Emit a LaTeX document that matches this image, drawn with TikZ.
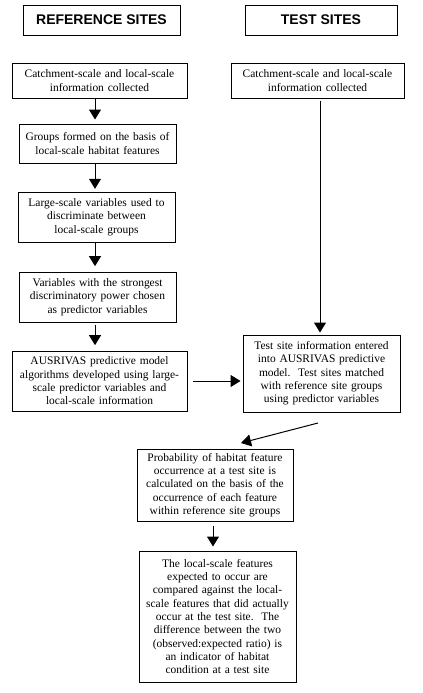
\documentclass[tikz,border=0pt]{standalone}
\usepackage{fontspec}
\setmainfont{Liberation Serif}
\newfontfamily\hdrfont{Liberation Sans}
\usetikzlibrary{arrows.meta}
\tikzset{
  bx/.style={draw, line width=0.75pt, align=center, inner xsep=2pt, inner ysep=0pt,
    font=\fontsize{8.6}{10}\selectfont},
  hd/.style={draw, line width=0.75pt, align=center, inner sep=0pt,
    font=\hdrfont\bfseries\fontsize{10.5}{12}\selectfont},
  arr/.style={line width=0.75pt, -{Triangle[width=9pt,length=7.5pt]}},
}
\begin{document}
\begin{tikzpicture}[x=0.75pt,y=-0.75pt]
\useasboundingbox (0,0) rectangle (422,693);
% headers
\node[hd, minimum width=117.75pt, minimum height=22.5pt] (H1) at (101.5,20) {REFERENCE SITES};
\node[hd, minimum width=114pt, minimum height=22.5pt] (H2) at (321,20) {TEST SITES};
% reference column
\node[bx, text width=127.25pt, minimum height=26.25pt] (R1) at (99.5,80.5)
  {Catchment-scale and local-scale\\information collected};
\node[bx, text width=113.75pt, minimum height=29.25pt] (R2) at (97.5,143.5)
  {Groups formed on the basis of\\local-scale habitat features};
\node[bx, text width=113.75pt, minimum height=37.5pt] (R3) at (96.5,217)
  {Large-scale variables used to\\discriminate between\\local-scale groups};
\node[bx, text width=113.75pt, minimum height=37.5pt] (R4) at (97.5,297)
  {Variables with the strongest\\discriminatory power chosen\\as predictor variables};
\node[bx, text width=127.25pt, minimum height=45pt] (R5) at (99.5,381)
  {AUSRIVAS predictive model\\algorithms developed using large-\\scale predictor variables and\\local-scale information};
% test column
\node[bx, text width=125.75pt, minimum height=26.25pt] (T1) at (317.5,80.5)
  {Catchment-scale and local-scale\\information collected};
\node[bx, text width=113.75pt, minimum height=57.75pt] (T2) at (321.5,373.5)
  {Test site information entered\\into AUSRIVAS predictive\\model.\ \ Test sites matched\\with reference site groups\\using predictor variables};
% bottom
\node[bx, text width=113pt, minimum height=54pt] (B6) at (215,485)
  {Probability of habitat feature\\occurrence at a test site is\\calculated on the basis of the\\occurrence of each feature\\within reference site groups};
\node[bx, text width=113.75pt, minimum height=98.25pt] (B7) at (217.5,616.5)
  {The local-scale features\\expected to occur are\\compared against the local-\\scale features that did actually\\occur at the test site.\ \ The\\difference between the two\\(observed:expected ratio) is\\an indicator of habitat\\condition at a test site};
% connectors
\coordinate (ax) at (95,0);
\draw[arr] (R1.south -| ax) -- ([yshift=3pt]R2.north -| ax);
\draw[arr] (R2.south -| ax) -- ([yshift=2pt]R3.north -| ax);
\draw[arr] (R3.south -| ax) -- ([yshift=4pt]R4.north -| ax);
\draw[arr] ([yshift=-1.5pt]R4.south -| ax) -- ([yshift=4pt]R5.north -| ax);
\coordinate (tx) at (320,0);
\draw[arr] ([yshift=-1.5pt]T1.south -| tx) -- ([yshift=1.5pt]T2.north -| tx);
\draw[arr] ([xshift=4pt]R5.east) -- ([xshift=-1.5pt]R5.east -| T2.west);
\coordinate (d1) at (318,423);
\coordinate (d2) at (241,443);
\draw[arr] (d1) -- (d2);
\coordinate (bx6) at (213,0);
\draw[arr] ([yshift=-3pt]B6.south -| bx6) -- ([yshift=3pt]B7.north -| bx6);
\end{tikzpicture}
\end{document}
